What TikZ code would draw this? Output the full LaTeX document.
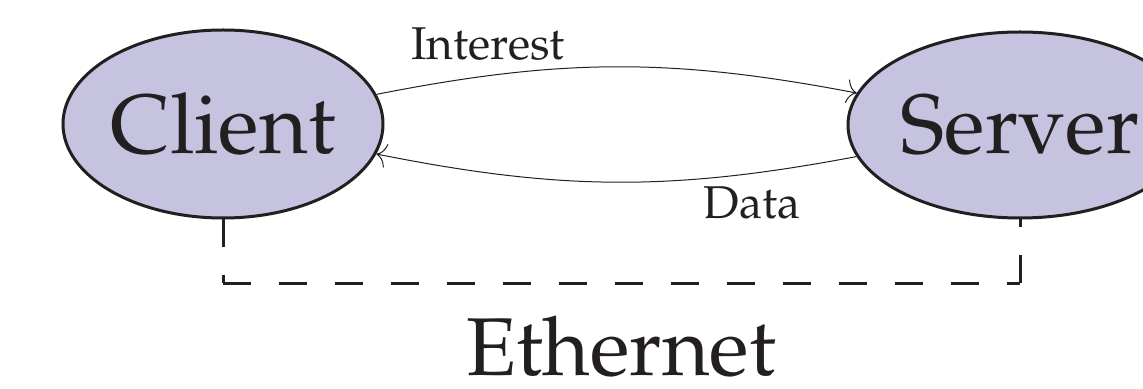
\documentclass[tikz,border=0pt]{standalone}
\usepackage[T1]{fontenc}
\usepackage{mathpazo}
\usetikzlibrary{shapes.geometric,arrows.meta}
\definecolor{nodefill}{HTML}{C6C3E0}
\definecolor{ink}{HTML}{231F20}
\tikzset{
  ent/.style={ellipse, draw=ink, fill=nodefill, line width=1.5pt, inner sep=0pt,
    text=ink, font=\fontsize{42}{48}\selectfont},
  msg/.style={draw=ink, line width=0.5pt, -{To[length=5pt,width=12pt]}},
  lbl/.style={text=ink, inner sep=0pt, anchor=base, font=\fontsize{23}{28}\selectfont},
  eth/.style={draw=ink, line width=1.5pt, dash pattern=on 14pt off 14pt}
}
\begin{document}
\begin{tikzpicture}[x=0.5pt,y=-0.5pt]
\useasboundingbox (0,0) rectangle (1143,389);
\node[ent, minimum width=160pt, minimum height=94pt] (client) at (223,124) {Client};
\node[ent, minimum width=172pt, minimum height=93pt] (server) at (1020,125) {Server};
\draw[msg] (client) to[bend left=11] (server);
\draw[msg] (server) to[bend left=11] (client);
\node[lbl] (interest) at (488,60) {Interest};
\node[lbl] (data) at (752,219) {Data};
\coordinate (bus) at (0,283);
\coordinate (cb) at (client.south |- bus);
\coordinate (sb) at (server.south |- bus);
\draw[eth] (client.south) -- (cb);
\draw[eth] (cb) -- (sb);
\draw[eth] (sb) -- (server.south);
\node[text=ink, inner sep=0pt, anchor=base, font=\fontsize{41}{48}\selectfont] (ethernet) at (621,375) {Ethernet};
\end{tikzpicture}
\end{document}
